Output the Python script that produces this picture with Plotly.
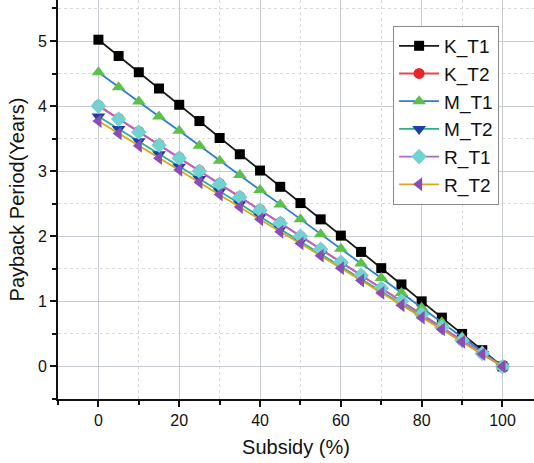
import plotly.graph_objects as go

subsidy = [0, 5, 10, 15, 20, 25, 30, 35, 40, 45, 50, 55, 60, 65, 70, 75, 80, 85, 90, 95, 100]

k_t1 = [5.02, 4.77, 4.52, 4.27, 4.02, 3.77, 3.51, 3.26, 3.01, 2.76, 2.51, 2.26, 2.01, 1.76, 1.51, 1.26, 1.00, 0.75, 0.50, 0.25, 0.00]
k_t2 = [4.01, 3.81, 3.61, 3.41, 3.21, 3.01, 2.81, 2.61, 2.41, 2.21, 2.00, 1.80, 1.60, 1.40, 1.20, 1.00, 0.80, 0.60, 0.40, 0.20, 0.00]
m_t1 = [4.52, 4.29, 4.07, 3.84, 3.62, 3.39, 3.16, 2.94, 2.71, 2.49, 2.26, 2.03, 1.81, 1.58, 1.36, 1.13, 0.90, 0.68, 0.45, 0.23, 0.00]
m_t2 = [3.84, 3.65, 3.46, 3.26, 3.07, 2.88, 2.69, 2.50, 2.30, 2.11, 1.92, 1.73, 1.54, 1.34, 1.15, 0.96, 0.77, 0.58, 0.38, 0.19, 0.00]
r_t1 = [4.00, 3.80, 3.60, 3.40, 3.20, 3.00, 2.80, 2.60, 2.40, 2.20, 2.00, 1.80, 1.60, 1.40, 1.20, 1.00, 0.80, 0.60, 0.40, 0.20, 0.00]
r_t2 = [3.77, 3.58, 3.39, 3.20, 3.02, 2.83, 2.64, 2.45, 2.26, 2.07, 1.89, 1.70, 1.51, 1.32, 1.13, 0.94, 0.75, 0.57, 0.38, 0.19, 0.00]

series = [
    ("K_T1", k_t1, "#1a1a1a", "#000000", "square", 10),
    ("K_T2", k_t2, "#e8474a", "#e8262a", "circle", 11),
    ("M_T1", m_t1, "#2a7fd0", "#5cc04a", "triangle-up", 12),
    ("M_T2", m_t2, "#2db08a", "#1f3fa8", "triangle-down", 12),
    ("R_T1", r_t1, "#b466cc", "#72d2d2", "diamond", 12),
    ("R_T2", r_t2, "#d9a520", "#8a4db5", "triangle-left", 12),
]

fig = go.Figure()
for name, ys, lc, mc, sym, sz in series:
    fig.add_trace(go.Scatter(
        x=subsidy, y=ys, name=name, mode="lines+markers",
        line=dict(color=lc, width=1.8),
        marker=dict(symbol=sym, size=sz, color=mc, line=dict(width=0)),
    ))

font = "Liberation Sans, Arial, sans-serif"
fig.update_layout(
    width=534, height=463,
    margin=dict(l=58, r=0, t=0, b=64),
    plot_bgcolor="white", paper_bgcolor="white",
    font=dict(family=font, color="#111111"),
    xaxis=dict(
        range=[-10, 107.8], tickvals=[0, 20, 40, 60, 80, 100],
        showgrid=True, gridcolor="#c6cbd2", gridwidth=1,
        showline=True, linecolor="#111111", linewidth=2,
        ticks="outside", ticklen=6, tickwidth=2, tickcolor="#111111",
        tickfont=dict(size=16),
        minor=dict(dtick=10, tick0=0, showgrid=True, gridcolor="#d8dadd", griddash="dot",
                   ticks="outside", ticklen=4, tickwidth=1.5, tickcolor="#111111"),
        title=dict(text="Subsidy (%)", font=dict(size=20), standoff=12),
        zeroline=False,
    ),
    yaxis=dict(
        range=[-0.5, 5.63], tickvals=[0, 1, 2, 3, 4, 5],
        showgrid=True, gridcolor="#c6cbd2", gridwidth=1,
        showline=True, linecolor="#111111", linewidth=2,
        ticks="outside", ticklen=6, tickwidth=2, tickcolor="#111111",
        tickfont=dict(size=16),
        minor=dict(dtick=0.5, tick0=0, showgrid=True, gridcolor="#d8dadd", griddash="dot",
                   ticks="outside", ticklen=4, tickwidth=1.5, tickcolor="#111111"),
        title=dict(text="Payback Period(Years)", font=dict(size=20), standoff=8),
        zeroline=False,
    ),
    legend=dict(
        x=0.704, y=0.935, xanchor="left", yanchor="top",
        bordercolor="#8a8a8a", borderwidth=1, bgcolor="white",
        font=dict(size=19, family=font), tracegroupgap=0,
        itemwidth=40,
    ),
    showlegend=True,
)

fig.write_html("out.html")
